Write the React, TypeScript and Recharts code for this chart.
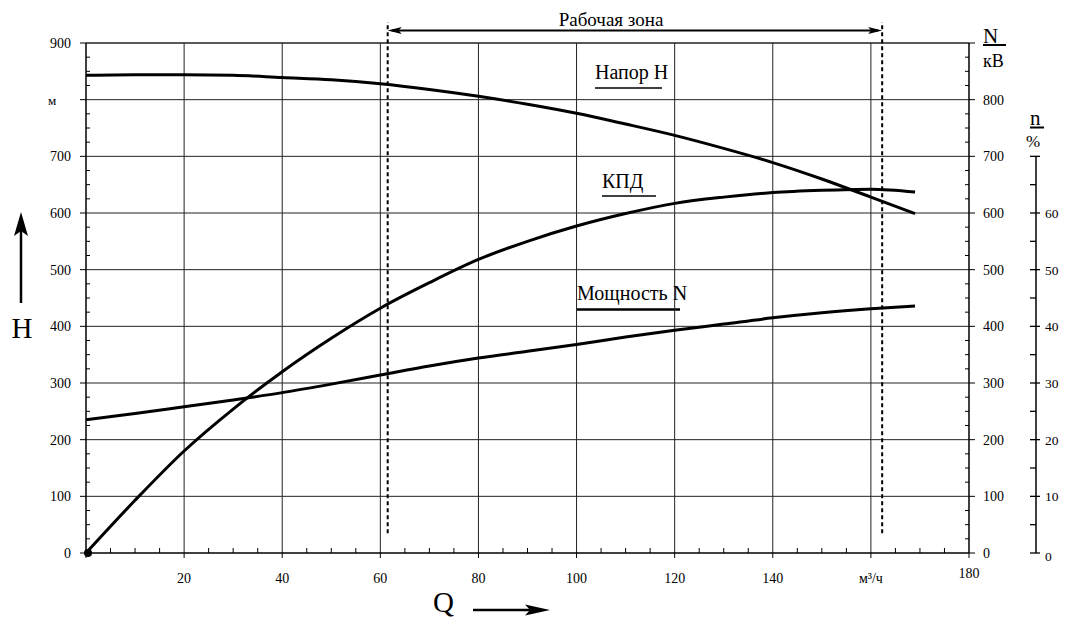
import { ComposedChart, Line, XAxis, YAxis, ReferenceLine, Customized } from "recharts";

// flow rate Q, m3/h
const FLOW = [0, 10, 20, 30, 40, 50, 60, 70, 80, 90, 100, 110, 120, 130, 140, 150, 160, 169];
// head H, m
const HEAD = [843, 844, 844, 843, 839, 835, 828, 818, 806, 792, 776, 757, 737, 714, 689, 660, 628, 599];
// power N, kW
const POWER = [235, 246, 258, 270, 283, 298, 314, 330, 344, 356, 368, 381, 393, 404, 415, 424, 431, 436];
// efficiency, %
const EFF = [0, 9.3, 18, 25.4, 32, 37.9, 43.2, 47.7, 51.8, 55, 57.7, 59.9, 61.7, 62.8, 63.6, 64, 64.2, 63.7];

// working zone bounds on Q
const ZONE = [61.5, 162.3];

const Q_MAJOR = [0, 20, 40, 60, 80, 100, 120, 140, 160, 180];
const Q_LABELS = ["", "20", "40", "60", "80", "100", "120", "140", "м³/ч", "180"];
const Q_MINOR = [5, 10, 15, 25, 30, 35, 45, 50, 55, 65, 70, 75, 85, 90, 95, 105, 110, 115, 125, 130, 135, 145, 150, 155, 165, 170, 175];

const H_MAJOR = [0, 100, 200, 300, 400, 500, 600, 700, 800, 900];
const H_LABELS = ["0", "100", "200", "300", "400", "500", "600", "700", "м", "900"];
const N_LABELS = ["0", "100", "200", "300", "400", "500", "600", "700", "800", ""];
const H_MINOR = [25, 50, 75, 125, 150, 175, 225, 250, 275, 325, 350, 375, 425, 450, 475, 525, 550, 575, 625, 650, 675, 725, 750, 775, 825, 850, 875];

const ETA_TICKS = [0, 5, 10, 15, 20, 25, 30, 35, 40, 45, 50, 55, 60, 65, 70];
const ETA_LABELS = ["0", "10", "20", "30", "40", "50", "60"];
const ETA_MAX = 90;

const W = 1051;
const H = 612;
const M_TOP = 35;
const X_AXIS_H = 67;
const PLOT_H = H - M_TOP - X_AXIS_H;
const FONT = "'Liberation Serif', 'Times New Roman', serif";

const rows = FLOW.map((q, i) => ({ q, head: HEAD[i], power: POWER[i], eff: EFF[i] }));
const qTicks = [...Q_MAJOR, ...Q_MINOR].sort((a, b) => a - b);
const hTicks = [...H_MAJOR, ...H_MINOR].sort((a, b) => a - b);

const T = (props: any) => <text fontFamily={FONT} fill="#000" style={{ fontFamily: FONT }} {...props} />;

const XTick = (p: any) => {
  const v = p.payload.value;
  const i = Q_MAJOR.indexOf(v);
  if (i < 0) {
    return <line x1={p.x} x2={p.x} y1={p.y} y2={p.y - 5} stroke="#000" />;
  }
  return (
    <g>
      <line x1={p.x} x2={p.x} y1={p.y} y2={p.y + 5} stroke="#000" />
      <T x={p.x} y={p.y + (v === 180 ? 25 : 30)} textAnchor="middle" fontSize={14}>
        {Q_LABELS[i]}
      </T>
    </g>
  );
};

const LeftTick = (p: any) => {
  const v = p.payload.value;
  const i = H_MAJOR.indexOf(v);
  if (i < 0) {
    return <line x1={p.x} x2={p.x + 4} y1={p.y} y2={p.y} stroke="#000" />;
  }
  const unit = H_LABELS[i] === "м";
  return (
    <g>
      <line x1={p.x - 6} x2={p.x} y1={p.y} y2={p.y} stroke="#000" />
      <T
        x={unit ? p.x - 38 : p.x - 15}
        y={p.y}
        dy={5}
        textAnchor={unit ? "start" : "end"}
        fontSize={unit ? 13 : 14}
      >
        {H_LABELS[i]}
      </T>
    </g>
  );
};

const RightTick = (p: any) => {
  const v = p.payload.value;
  const i = H_MAJOR.indexOf(v);
  if (i < 0) {
    return <line x1={p.x - 4} x2={p.x} y1={p.y} y2={p.y} stroke="#000" />;
  }
  return (
    <g>
      <line x1={p.x} x2={p.x + 6} y1={p.y} y2={p.y} stroke="#000" />
      <T x={p.x + 14} y={p.y} dy={5} textAnchor="start" fontSize={14}>
        {N_LABELS[i]}
      </T>
    </g>
  );
};

const EtaTick = (p: any) => {
  const v = p.payload.value;
  const major = v % 10 === 0;
  const top = v === ETA_TICKS[ETA_TICKS.length - 1];
  const label = ETA_LABELS[v / 10];
  return (
    <g>
      <line x1={p.x - 6} x2={major ? p.x + 4 : p.x} y1={p.y} y2={p.y} stroke="#000" strokeWidth={1.3} />
      {top && (
        <line x1={p.x} x2={p.x} y1={p.y} y2={p.y + (PLOT_H * v) / ETA_MAX} stroke="#000" strokeWidth={1.5} />
      )}
      {major && label && (
        <T x={p.x + 9} y={p.y} dy={v === 0 ? 8 : 5} textAnchor="start" fontSize={13.5}>
          {label}
        </T>
      )}
    </g>
  );
};

const ZoneArrow = (p: any) => {
  const { x1, y1, x2, y2 } = p;
  return (
    <g>
      <line x1={x1 + 4} y1={y1} x2={x2 - 4} y2={y2} stroke="#000" strokeWidth={2} />
      <polygon points={`${x1},${y1} ${x1 + 14},${y1 - 3.5} ${x1 + 11},${y1} ${x1 + 14},${y1 + 3.5}`} fill="#000" />
      <polygon points={`${x2},${y2} ${x2 - 14},${y2 - 3.5} ${x2 - 11},${y2} ${x2 - 14},${y2 + 3.5}`} fill="#000" />
    </g>
  );
};

const StartDot = (p: any) =>
  p.index === 0 ? <circle key="d0" cx={p.cx + 2} cy={p.cy} r={4} fill="#000" /> : <g key={`d${p.index}`} />;

const Overlay = () => (
  <g>
    <T x={603} y={18} textAnchor="middle" fontSize={19}>Рабочая зона</T>

    {/* axis titles */}
    <line x1={13} x2={13} y1={295} y2={222} stroke="#000" strokeWidth={2.5} />
    <polygon points="13,204 6,228 13,223 20,228" fill="#000" />
    <T x={14} y={330} textAnchor="middle" fontSize={29}>H</T>

    <T x={425} y={604} fontSize={29}>Q</T>
    <line x1={465} x2={530} y1={602} y2={602} stroke="#000" strokeWidth={2.5} />
    <polygon points="542,602 517,596.5 522,602 517,607.5" fill="#000" />

    <T x={975} y={35} fontSize={21}>N</T>
    <line x1={975} x2={998} y1={37} y2={37} stroke="#000" strokeWidth={2} />
    <T x={975} y={59} fontSize={18}>кВ</T>

    <T x={1022} y={117} fontSize={21}>n</T>
    <line x1={1022} x2={1036} y1={119.5} y2={119.5} stroke="#000" strokeWidth={2} />
    <T x={1018} y={139} fontSize={17}>%</T>

    {/* curve captions */}
    <T x={587} y={71} fontSize={20}>Напор H</T>
    <line x1={587} x2={654} y1={80} y2={80} stroke="#000" strokeWidth={1.5} />
    <T x={594} y={180} fontSize={20}>КПД</T>
    <line x1={594} x2={648} y1={188} y2={188} stroke="#000" strokeWidth={1.5} />
    <rect x={564} y={263} width={120} height={45} fill="#fff" />
    <T x={569} y={292} fontSize={20}>Мощность N</T>
    <line x1={569} x2={672} y1={301.5} y2={301.5} stroke="#000" strokeWidth={2.5} />
  </g>
);

export default function App() {
  return (
    <div style={{ width: W, height: H, fontFamily: FONT, background: "#fff" }}>
      <ComposedChart width={W} height={H} data={rows} margin={{ top: M_TOP, right: 0, bottom: 0, left: 0 }}>
        <XAxis
          xAxisId="q"
          dataKey="q"
          type="number"
          domain={[0, 180]}
          ticks={qTicks}
          interval={0}
          height={X_AXIS_H}
          tickSize={0}
          tickMargin={0}
          tickLine={false}
          tick={<XTick />}
          axisLine={{ stroke: "#000", strokeWidth: 1.5 }}
        />
        <YAxis
          yAxisId="a_head"
          type="number"
          domain={[0, 900]}
          ticks={hTicks}
          interval={0}
          width={78}
          tickSize={0}
          tickMargin={0}
          tickLine={false}
          tick={<LeftTick />}
          axisLine={{ stroke: "#000", strokeWidth: 1.5 }}
        />
        <YAxis
          yAxisId="b_kw"
          orientation="right"
          type="number"
          domain={[0, 900]}
          ticks={hTicks}
          interval={0}
          width={67}
          tickSize={0}
          tickMargin={0}
          tickLine={false}
          tick={<RightTick />}
          axisLine={{ stroke: "#000", strokeWidth: 1.5 }}
        />
        <YAxis
          yAxisId="c_eta"
          orientation="right"
          type="number"
          domain={[0, ETA_MAX]}
          ticks={ETA_TICKS}
          interval={0}
          width={W - 78 - 883 - 67}
          tickSize={0}
          tickMargin={0}
          tickLine={false}
          tick={<EtaTick />}
          axisLine={false}
        />

        {Q_MAJOR.slice(1, -1).map((v) => (
          <ReferenceLine key={`vx${v}`} xAxisId="q" yAxisId="a_head" x={v} stroke="#222" strokeWidth={1} />
        ))}
        {H_MAJOR.slice(1).map((v) => (
          <ReferenceLine
            key={`hy${v}`}
            xAxisId="q"
            yAxisId="a_head"
            y={v}
            stroke="#222"
            strokeWidth={v === 900 ? 1.5 : 1}
          />
        ))}

        {ZONE.map((v) => (
          <ReferenceLine
            key={`z${v}`}
            xAxisId="q"
            yAxisId="a_head"
            ifOverflow="visible"
            segment={[
              { x: v, y: 35 },
              { x: v, y: 937 },
            ]}
            stroke="#000"
            strokeWidth={2}
            strokeDasharray="4 3"
          />
        ))}
        <ReferenceLine
          xAxisId="q"
          yAxisId="a_head"
          ifOverflow="visible"
          segment={[
            { x: ZONE[0], y: 922 },
            { x: ZONE[1], y: 922 },
          ]}
          shape={<ZoneArrow />}
        />

        <Customized component={<Overlay />} />

        <Line
          xAxisId="q"
          yAxisId="a_head"
          dataKey="head"
          type="monotone"
          stroke="#000"
          strokeWidth={3}
          dot={false}
          isAnimationActive={false}
        />
        <Line
          xAxisId="q"
          yAxisId="b_kw"
          dataKey="power"
          type="monotone"
          stroke="#000"
          strokeWidth={3}
          dot={false}
          isAnimationActive={false}
        />
        <Line
          xAxisId="q"
          yAxisId="c_eta"
          dataKey="eff"
          type="monotone"
          stroke="#000"
          strokeWidth={3}
          dot={StartDot}
          isAnimationActive={false}
        />
      </ComposedChart>
    </div>
  );
}
